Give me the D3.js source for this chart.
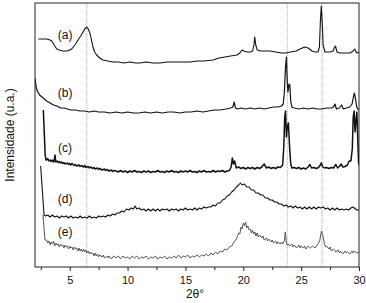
<!DOCTYPE html>
<html><head><meta charset="utf-8">
<script src="https://cdn.jsdelivr.net/npm/d3@7"></script>
<style>body{margin:0;background:#fff}svg{display:block}</style>
</head><body>
<script>
const xTicks=[5,10,15,20,25,30];
const xMinor=[2.5,7.5,12.5,17.5,22.5,27.5];
const refLines=[6.48,23.8,26.8];
const labels=["(a)","(b)","(c)","(d)","(e)"];
const labelPos=[[4.6,228],[4.6,170],[4.6,115],[4.6,64],[4.6,31]];
const serA=[[2.29,228],[2.6,228],[3.0,228],[3.3,227],[3.45,226],[3.56,224],[3.7,221],[3.88,218],[4.1,217],[4.42,216],[4.8,216],[5.17,218],[5.45,222],[5.72,227],[5.95,231],[6.15,235],[6.3,238],[6.47,240],[6.6,238],[6.75,234],[6.88,227],[7.01,220],[7.15,215],[7.33,212],[7.6,209],[7.88,207],[8.3,206],[8.74,205],[9.2,205],[9.7,204],[10.2,205],[10.7,204],[11.07,204],[11.6,205],[12.2,204],[12.8,204],[13.4,205],[14.0,205],[14.6,205],[15.4,205],[16.0,206],[16.6,206],[17.38,207],[17.9,209],[18.42,210],[18.9,211],[19.46,212],[19.7,214],[19.89,217],[20.05,216],[20.32,215],[20.6,215],[20.8,216],[20.92,222],[20.99,230],[21.08,222],[21.2,217],[21.5,216],[21.9,216],[22.31,216],[22.8,215],[23.3,214],[23.69,214],[24.1,215],[24.56,216],[24.9,218],[25.31,220],[25.6,219],[25.94,216],[26.2,215],[26.46,215],[26.58,220],[26.66,245],[26.74,261],[26.82,245],[26.9,222],[27.06,215],[27.49,215],[27.75,216],[27.9,220],[27.97,221],[28.1,215],[28.36,214],[28.8,214],[29.22,214],[29.5,216],[29.63,218],[29.8,214],[30.0,215]];
const serB=[[2.0,189],[2.1,180],[2.2,176],[2.4,172],[2.6,170],[2.8,168],[3.0,166],[3.3,164],[3.6,162],[3.9,161],[4.2,159],[4.5,159],[4.8,158],[5.1,157],[5.5,157],[5.9,156],[6.3,156],[6.7,155],[7.1,156],[7.5,155],[8.0,155],[8.5,154],[9.0,155],[9.5,154],[10.0,155],[10.5,154],[11.0,154],[11.5,155],[12.0,154],[12.5,155],[13.0,154],[13.5,155],[14.0,155],[14.5,154],[15.0,155],[15.5,155],[16.0,156],[16.5,155],[17.0,156],[17.5,157],[18.0,157],[18.5,158],[18.9,159],[19.1,160],[19.22,165],[19.32,159],[19.5,158],[19.8,159],[20.2,158],[20.6,159],[21.0,158],[21.4,159],[21.8,158],[22.2,159],[22.6,160],[23.0,160],[23.3,161],[23.45,163],[23.55,175],[23.65,200],[23.73,210],[23.8,185],[23.86,175],[23.95,183],[24.02,182],[24.1,166],[24.2,160],[24.4,159],[24.8,158],[25.2,159],[25.6,158],[26.0,159],[26.4,158],[26.8,158],[27.2,159],[27.6,159],[27.8,160],[27.92,163],[28.05,158],[28.3,159],[28.5,162],[28.65,158],[28.9,159],[29.2,160],[29.4,163],[29.52,170],[29.6,174],[29.7,168],[29.8,160],[29.9,158],[30.0,157]];
const serC=[[2.72,157],[2.88,112],[2.95,107],[3.0,107],[3.1,108.5],[3.2,106],[3.3,107],[3.4,105.5],[3.5,107],[3.6,105],[3.65,106],[3.73,112],[3.8,105],[3.9,106],[4.0,104.5],[4.1,105.5],[4.2,104],[4.3,105],[4.4,103.5],[4.5,104.5],[4.6,103],[4.8,104],[4.9,102.5],[5.0,103.5],[5.1,102],[5.2,103.5],[5.4,101.5],[5.5,102.5],[5.6,101],[5.8,102],[5.9,100.5],[6.0,101.5],[6.2,100],[6.3,101.5],[6.4,99.5],[6.6,100.5],[6.7,99],[6.8,100],[7.0,98.5],[7.1,99.5],[7.2,98],[7.4,99],[7.5,97.5],[7.6,98.5],[7.8,97],[8.0,98],[8.1,96.5],[8.2,97.5],[8.4,96],[8.6,97],[8.7,95.5],[8.8,96.5],[9.0,96],[9.2,95],[9.4,96.5],[9.6,95],[9.8,96],[10.0,94.5],[10.2,96],[10.4,95],[10.6,96.5],[10.8,95],[11.0,95.5],[11.2,94.5],[11.4,96],[11.6,95],[11.8,96],[12.0,94.5],[12.2,95.5],[12.4,95],[12.6,96.5],[12.8,95],[13.0,95.5],[13.2,94.5],[13.4,96],[13.6,95],[13.8,96.5],[14.0,95],[14.2,95.5],[14.4,94.5],[14.6,96],[14.8,95],[15.0,96],[15.2,95],[15.4,96.5],[15.6,95],[15.8,95.5],[16.0,94.5],[16.2,96],[16.4,95],[16.6,96.5],[16.8,95],[17.0,95.5],[17.2,95],[17.4,96.5],[17.6,95],[17.8,96],[18.0,95.5],[18.2,96.5],[18.4,95],[18.6,96],[18.8,96.5],[18.95,100],[19.05,109],[19.15,103],[19.25,106],[19.4,99],[19.6,100],[19.8,98.5],[20.0,99.5],[20.2,98],[20.4,99.5],[20.6,98.5],[20.8,99.5],[21.0,98],[21.2,99.5],[21.4,98.5],[21.6,100],[21.8,103],[22.0,99],[22.2,100],[22.4,98.5],[22.6,99.5],[22.8,98.5],[23.0,100],[23.2,99.5],[23.4,102],[23.5,120],[23.58,150],[23.65,156],[23.73,130],[23.8,140],[23.9,144],[24.0,120],[24.1,103],[24.2,99],[24.4,99.5],[24.6,98.5],[24.8,99.5],[25.0,98],[25.2,99],[25.4,98],[25.6,100],[25.75,102.5],[25.9,99],[26.1,99.5],[26.3,98.5],[26.5,99.5],[26.65,102],[26.75,104],[26.85,100.5],[27.0,99],[27.2,99.5],[27.4,98.5],[27.6,99.5],[27.8,99],[28.0,102.5],[28.15,99],[28.3,100.5],[28.45,103],[28.6,100],[28.8,100.5],[29.0,102],[29.15,106],[29.3,106],[29.42,118],[29.5,150],[29.58,156],[29.66,135],[29.75,148],[29.82,155],[29.9,125],[29.96,105],[30.0,102]];
const serD=[[2.49,101],[2.78,52],[2.9,51],[3.1,52],[3.3,50],[3.5,52],[3.7,50],[3.9,51],[4.1,49],[4.3,51],[4.5,50],[4.7,51],[4.9,49],[5.1,51],[5.3,49],[5.5,50],[5.7,49],[5.9,51],[6.1,49],[6.3,50],[6.5,49],[6.7,51],[6.9,49],[7.1,50],[7.3,49],[7.5,51],[7.7,50],[7.9,51],[8.1,50],[8.3,52],[8.5,51],[8.7,53],[8.9,52],[9.1,54],[9.3,54],[9.5,56],[9.7,55],[9.9,58],[10.1,57],[10.3,59],[10.5,58],[10.65,61],[10.8,58],[11.0,59],[11.2,57],[11.4,58],[11.6,56],[11.8,58],[12.0,56],[12.2,58],[12.4,56],[12.6,58],[12.8,56],[13.0,58],[13.2,57],[13.4,58],[13.6,56],[13.8,58],[14.0,57],[14.2,58],[14.4,56],[14.6,58],[14.8,57],[15.0,59],[15.2,57],[15.4,58],[15.6,57],[15.8,59],[16.0,57],[16.2,59],[16.4,58],[16.6,60],[16.8,59],[17.0,60],[17.2,60],[17.4,62],[17.6,61],[17.8,64],[18.0,64],[18.2,67],[18.4,68],[18.6,71],[18.8,72],[19.0,75],[19.2,77],[19.4,80],[19.6,82],[19.75,84],[19.9,82],[20.1,83],[20.3,80],[20.5,80],[20.7,77],[20.9,77],[21.1,74],[21.3,74],[21.5,72],[21.7,72],[21.9,69],[22.1,69],[22.3,67],[22.5,67],[22.7,65],[22.9,65],[23.1,63],[23.3,63],[23.5,61],[23.7,62],[23.9,60],[24.1,61],[24.3,59],[24.5,61],[24.7,59],[24.9,60],[25.1,58],[25.3,60],[25.5,58],[25.7,60],[25.9,58],[26.1,60],[26.3,58],[26.5,60],[26.7,59],[26.9,60],[27.1,58],[27.3,59],[27.5,57],[27.7,59],[27.9,57],[28.1,59],[28.3,57],[28.5,58],[28.7,57],[28.9,58],[29.1,57],[29.3,59],[29.45,60],[29.6,59],[29.8,57],[30.0,57]];
const serE=[[2.69,52],[2.86,27],[3.0,27],[3.1,24],[3.2,26],[3.3,22],[3.4,25],[3.5,23],[3.6,26],[3.7,21],[3.8,24],[3.9,22],[4.0,23],[4.1,20],[4.2,23],[4.3,21],[4.4,22],[4.5,19],[4.6,22],[4.7,20],[4.8,21],[4.9,18],[5.0,21],[5.1,19],[5.2,20],[5.3,17],[5.4,20],[5.5,18],[5.6,19],[5.7,16],[5.8,19],[5.9,16],[6.0,18],[6.1,15],[6.2,18],[6.3,15],[6.4,17],[6.5,14],[6.6,16],[6.7,13],[6.8,15],[6.9,13],[7.0,14],[7.1,11],[7.2,14],[7.3,11],[7.4,13],[7.5,10],[7.6,12],[7.8,10],[7.9,12],[8.0,9],[8.2,11],[8.3,9],[8.4,11],[8.6,8],[8.8,11],[9.0,9],[9.2,11],[9.4,8],[9.6,11],[9.8,9],[10.0,10],[10.2,8],[10.4,11],[10.6,9],[10.8,11],[11.0,8],[11.2,10],[11.4,9],[11.6,11],[11.8,8],[12.0,10],[12.2,9],[12.4,11],[12.6,8],[12.8,10],[13.0,9],[13.2,11],[13.4,8],[13.6,10],[13.8,9],[14.0,11],[14.2,9],[14.4,12],[14.6,9],[14.8,11],[15.0,10],[15.2,12],[15.4,9],[15.6,11],[15.8,10],[16.0,12],[16.2,10],[16.4,12],[16.6,11],[16.8,13],[17.0,11],[17.2,14],[17.4,12],[17.6,15],[17.8,13],[18.0,16],[18.2,15],[18.4,18],[18.6,17],[18.8,20],[19.0,21],[19.2,25],[19.4,28],[19.6,34],[19.7,33],[19.8,40],[19.9,38],[20.0,44],[20.1,41],[20.2,45],[20.3,39],[20.4,41],[20.5,37],[20.6,38],[20.7,34],[20.8,37],[20.9,33],[21.0,35],[21.1,31],[21.2,34],[21.3,30],[21.4,32],[21.6,29],[21.7,31],[21.8,27],[22.0,29],[22.1,26],[22.2,28],[22.4,25],[22.5,27],[22.6,24],[22.8,26],[22.9,23],[23.0,25],[23.2,23],[23.3,25],[23.4,23],[23.55,26],[23.63,35],[23.72,25],[23.8,22],[23.9,23],[24.0,21],[24.2,23],[24.3,20],[24.4,22],[24.6,19],[24.8,22],[24.9,19],[25.0,21],[25.2,19],[25.3,21],[25.4,18],[25.6,21],[25.8,19],[26.0,21],[26.2,19],[26.4,22],[26.6,26],[26.75,36],[26.85,33],[27.0,24],[27.1,20],[27.2,21],[27.4,18],[27.5,20],[27.6,16],[27.8,18],[28.0,15],[28.2,17],[28.3,14],[28.4,16],[28.6,13],[28.8,16],[28.9,14],[29.0,15],[29.2,13],[29.4,16],[29.5,14],[29.6,16],[29.8,14],[30.0,15]];
const series=[
 {data:serA,color:"#111",w:1.1},
 {data:serB,color:"#111",w:1.2},
 {data:serC,color:"#111",w:1.5},
 {data:serD,color:"#111",w:1.1},
 {data:serE,color:"#555",w:1.0}
];

const W=366,H=303;
const m={l:35,r:7,t:3,b:36};
const svg=d3.select("body").append("svg").attr("width",W).attr("height",H);
const x=d3.scaleLinear().domain([2,30]).range([m.l,W-m.r]);
const y=d3.scaleLinear().domain([0,264]).range([H-m.b,m.t]);
const font="Liberation Sans, Arial, sans-serif";

svg.append("clipPath").attr("id","clp").append("rect")
 .attr("x",m.l).attr("y",m.t).attr("width",W-m.l-m.r).attr("height",H-m.t-m.b);

svg.append("g").selectAll("line").data(refLines).join("line")
 .attr("x1",d=>x(d)).attr("x2",d=>x(d)).attr("y1",m.t).attr("y2",H-m.b)
 .attr("stroke","#aaa").attr("stroke-width",1).attr("stroke-dasharray","1,1");

const line=d3.line().x(d=>x(d[0])).y(d=>y(d[1]));
svg.append("g").attr("clip-path","url(#clp)").selectAll("path").data(series).join("path")
 .attr("d",d=>line(d.data)).attr("fill","none").attr("stroke",d=>d.color)
 .attr("stroke-width",d=>d.w).attr("stroke-linejoin","round");

svg.append("g").selectAll("text").data(labels).join("text")
 .attr("x",(d,i)=>x(labelPos[i][0])).attr("y",(d,i)=>y(labelPos[i][1]))
 .attr("text-anchor","middle").attr("font-family",font).attr("font-size",12)
 .attr("fill","#111").text(d=>d);

svg.append("rect").attr("x",m.l).attr("y",m.t).attr("width",W-m.l-m.r).attr("height",H-m.t-m.b)
 .attr("fill","none").attr("stroke","#222").attr("stroke-width",1);

const ax=svg.append("g").attr("transform",`translate(0,${H-m.b})`)
 .call(d3.axisBottom(x).tickValues(xTicks).tickSize(4).tickSizeOuter(0).tickFormat(d3.format("d")));
ax.select(".domain").remove();
ax.selectAll("text").attr("font-family",font).attr("font-size",11).attr("fill","#111").attr("dy","0.95em");
ax.selectAll("line").attr("stroke","#222");
const axm=svg.append("g").attr("transform",`translate(0,${H-m.b})`)
 .call(d3.axisBottom(x).tickValues(xMinor).tickSize(3).tickFormat(""));
axm.select(".domain").remove();
axm.selectAll("line").attr("stroke","#222");

svg.append("text").attr("x",195).attr("y",298).attr("text-anchor","middle")
 .attr("font-family",font).attr("font-size",12).attr("fill","#111").text("2θ°");
svg.append("text").attr("transform","translate(14,135) rotate(-90)").attr("text-anchor","middle")
 .attr("font-family",font).attr("font-size",12).attr("fill","#111").text("Intensidade (u.a.)");
</script>
</body></html>
